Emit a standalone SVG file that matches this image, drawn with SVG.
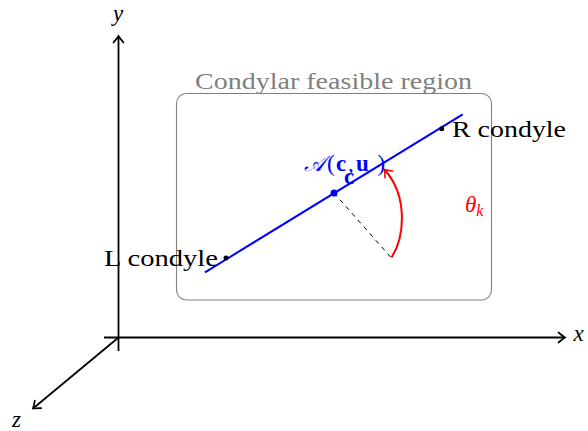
<svg xmlns="http://www.w3.org/2000/svg" width="588" height="431" viewBox="0 0 588 431">
<style>
text{font-family:'Liberation Serif','Times New Roman',serif;}
.lbl{font-size:23px;fill:#000;}
.math{font-style:italic;font-size:23px;}
.axis{stroke:#000;stroke-width:1.8;fill:none;}
</style>
<defs>
<marker id="ahk" markerUnits="userSpaceOnUse" viewBox="-9 -7 11 14" markerWidth="11" markerHeight="14" refX="0" refY="0" orient="auto" overflow="visible">
<path d="M-6.5,-5 Q-2,-1.2 0,0 Q-2,1.2 -6.5,5" fill="none" stroke="#000" stroke-width="1.7" stroke-linecap="round"/>
</marker>
<marker id="ahr" markerUnits="userSpaceOnUse" viewBox="-9 -7 11 14" markerWidth="11" markerHeight="14" refX="0" refY="0" orient="auto" overflow="visible">
<path d="M-6.5,-5 Q-2,-1.2 0,0 Q-2,1.2 -6.5,5" fill="none" stroke="#f00" stroke-width="1.6" stroke-linecap="round"/>
</marker>
</defs>
<rect width="588" height="431" fill="#fff"/>
<g id="region">
<rect x="176.5" y="93.5" width="315" height="206.5" rx="10" ry="10" fill="none" stroke="#808080" stroke-width="1.1"/>
<text x="195" y="88.5" font-size="24" fill="#808080" textLength="277" lengthAdjust="spacingAndGlyphs">Condylar feasible region</text>
</g>
<g id="connectors">
<line class="axis" x1="104" y1="337.5" x2="565" y2="337.5" marker-end="url(#ahk)"/>
<line class="axis" x1="118.5" y1="351" x2="118.5" y2="36" marker-end="url(#ahk)"/>
<line class="axis" x1="118.5" y1="337.5" x2="33" y2="408.5" marker-end="url(#ahk)"/>
<line x1="334" y1="193" x2="391" y2="257.5" stroke="#000" stroke-width="1" stroke-dasharray="4.5 4.5"/>
<path d="M391.5,257.5 C405,236 408,196 384.5,169.5" fill="none" stroke="#f00" stroke-width="2" marker-end="url(#ahr)"/>
</g>
<g id="condylar-axis">
<line x1="205" y1="272.3" x2="462.7" y2="114.3" stroke="#00f" stroke-width="2"/>
</g>
<g id="axis-labels">
<text class="math" x="118" y="21" text-anchor="middle">y</text>
<text class="math" x="578.5" y="341" text-anchor="middle">x</text>
<text class="math" x="16.5" y="427" text-anchor="middle">z</text>
</g>
<g id="L-condyle">
<circle cx="226" cy="258" r="2.5" fill="#000"/>
<text class="lbl" x="104" y="266" font-size="24" textLength="114" lengthAdjust="spacingAndGlyphs">L condyle</text>
</g>
<g id="R-condyle">
<circle cx="441.7" cy="128.8" r="2.5" fill="#000"/>
<text class="lbl" x="452" y="136.5" font-size="24" textLength="114" lengthAdjust="spacingAndGlyphs">R condyle</text>
</g>
<g id="center">
<circle cx="334" cy="193" r="3.5" fill="#00f"/>
<text y="171" font-size="23" fill="#00f"><tspan x="304" font-style="italic" font-size="22">𝒜</tspan><tspan x="327">(</tspan><tspan x="336" font-weight="bold">c</tspan><tspan x="348">,</tspan><tspan x="356" font-weight="bold">u</tspan><tspan x="377.5">)</tspan></text>
<text x="349" y="184" font-size="23" font-weight="bold" fill="#00f" text-anchor="middle">c</text>
</g>
<g id="angle">
<text x="465" y="212" font-size="23" font-style="italic" fill="#f00">θ<tspan font-size="16" dy="3.5">k</tspan></text>
</g>
</svg>
